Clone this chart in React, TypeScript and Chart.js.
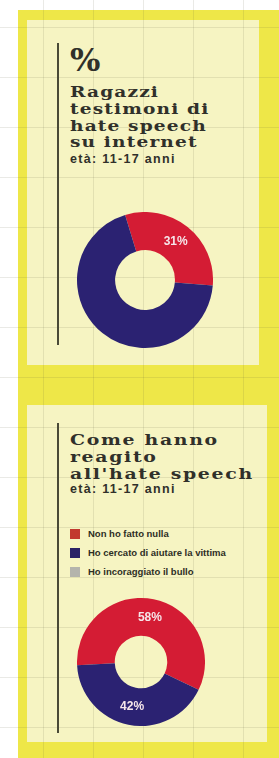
import React, { useEffect, useRef } from "react";
import { Chart, registerables } from "chart.js";

Chart.register(...registerables);

// ---- data ----
const chart1Categories = ["Testimoni di hate speech", "Non testimoni"];
const chart1Values = [31, 69];
const chart1Colors = ["#d41c34", "#2b2272"];
const chart1Labeled = [true, false];

const chart2Categories = ["Non ho fatto nulla", "Ho cercato di aiutare la vittima", "Ho incoraggiato il bullo"];
const chart2Values = [58, 42, 0];
const chart2Colors = ["#d41c34", "#2b2272", "#b4b4ac"];
const chart2LegendColors = ["#c23a2e", "#2b2266", "#b4b4ac"];
const chart2Labeled = [true, true, false];

const title1Lines = ["Ragazzi", "testimoni di", "hate speech", "su internet"];
const title2Lines = ["Come hanno", "reagito", "all'hate speech"];
const ageNote = "età: 11-17 anni";

const labelPlugin = {
  id: "sliceLabels",
  afterDatasetsDraw(chart: any) {
    const ctx = chart.ctx;
    const ds = chart.data.datasets[0];
    const meta = chart.getDatasetMeta(0);
    const shown: boolean[] = (chart.options.plugins as any).sliceLabels?.shown || [];
    ctx.save();
    ctx.fillStyle = "#f6e6ea";
    ctx.font = "bold 12px 'Liberation Sans', Arial, sans-serif";
    ctx.textAlign = "center";
    ctx.textBaseline = "middle";
    meta.data.forEach((arc: any, i: number) => {
      const v = ds.data[i];
      if (!shown[i] || !v) return;
      const p = arc.tooltipPosition();
      ctx.fillText(`${v}%`, p.x, p.y);
    });
    ctx.restore();
  },
};

function Donut(props: {
  categories: string[];
  values: number[];
  colors: string[];
  labeled: boolean[];
  rotation: number;
  cutout: string;
  style: React.CSSProperties;
}) {
  const ref = useRef<HTMLCanvasElement | null>(null);
  useEffect(() => {
    if (!ref.current) return;
    const chart = new Chart(ref.current, {
      type: "doughnut",
      data: {
        labels: props.categories,
        datasets: [
          {
            data: props.values,
            backgroundColor: props.colors,
            borderWidth: 0,
          },
        ],
      },
      options: {
        animation: false,
        responsive: false,
        maintainAspectRatio: false,
        rotation: props.rotation,
        cutout: props.cutout,
        layout: { padding: 0 },
        plugins: {
          legend: { display: false },
          tooltip: { enabled: false },
          sliceLabels: { shown: props.labeled },
        } as any,
      },
      plugins: [labelPlugin],
    });
    return () => chart.destroy();
  }, []);
  const w = props.style.width as number;
  const h = props.style.height as number;
  return <canvas ref={ref} width={w} height={h} style={{ position: "absolute", ...props.style }} />;
}

const serifTitle: React.CSSProperties = {
  position: "absolute",
  left: 70,
  fontFamily: "'DejaVu Serif', serif",
  fontWeight: "bold",
  fontSize: 14.5,
  letterSpacing: 0.9,
  lineHeight: "16.8px",
  color: "#30302a",
  whiteSpace: "nowrap",
  transform: "scaleX(1.28)",
  transformOrigin: "0 0",
};

const ageStyle: React.CSSProperties = {
  position: "absolute",
  left: 70,
  fontFamily: "'Liberation Sans', Arial, sans-serif",
  fontWeight: "bold",
  fontSize: 12.5,
  letterSpacing: 1.3,
  lineHeight: "13px",
  color: "#30302a",
  whiteSpace: "nowrap",
};

export default function App() {
  const gridBg =
    "repeating-linear-gradient(0deg, transparent 0px, transparent 49px, rgba(90,90,60,0.13) 49px, rgba(90,90,60,0.13) 50px)," +
    "repeating-linear-gradient(90deg, transparent 0px, transparent 49px, rgba(90,90,60,0.13) 49px, rgba(90,90,60,0.13) 50px)";
  return (
    <div
      style={{
        position: "fixed",
        left: 0,
        top: 0,
        width: 279,
        height: 758,
        background: "#ffffff",
        overflow: "hidden",
      }}
    >
      {/* yellow paper */}
      <div style={{ position: "absolute", left: 18, top: 10, width: 261, height: 748, background: "#eee748" }} />
      {/* cream panels */}
      <div style={{ position: "absolute", left: 27, top: 20, width: 232, height: 345, background: "#f6f4c2" }} />
      <div style={{ position: "absolute", left: 27, top: 405, width: 240, height: 337, background: "#f6f4c2" }} />
      {/* grid */}
      <div
        style={{
          position: "absolute",
          left: -6,
          top: -23,
          width: 300,
          height: 800,
          backgroundImage: gridBg,
          pointerEvents: "none",
        }}
      />
      {/* vertical rules */}
      <div style={{ position: "absolute", left: 57, top: 43, width: 2, height: 302, background: "#4a4a36" }} />
      <div style={{ position: "absolute", left: 57, top: 423, width: 2, height: 310, background: "#4a4a36" }} />

      {/* top panel text */}
      <div
        style={{
          ...serifTitle,
          top: 42,
          fontSize: 32,
          lineHeight: "36px",
          letterSpacing: 0,
          transform: "none",
        }}
      >
        %
      </div>
      <div style={{ ...serifTitle, top: 84 }}>
        {title1Lines.map((l, i) => (
          <div key={i}>{l}</div>
        ))}
      </div>
      <div style={{ ...ageStyle, top: 153 }}>{ageNote}</div>

      <Donut
        categories={chart1Categories}
        values={chart1Values}
        colors={chart1Colors}
        labeled={chart1Labeled}
        rotation={-17}
        cutout="44%"
        style={{ left: 77, top: 212, width: 136, height: 136 }}
      />

      {/* bottom panel text */}
      <div style={{ ...serifTitle, top: 431, letterSpacing: 1.3, lineHeight: "17px", transform: "scaleX(1.3)" }}>
        {title2Lines.map((l, i) => (
          <div key={i}>{l}</div>
        ))}
      </div>
      <div style={{ ...ageStyle, top: 483 }}>{ageNote}</div>

      {chart2Categories.map((c, i) => (
        <div key={i} style={{ position: "absolute", left: 70, top: 529 + i * 19, height: 10, whiteSpace: "nowrap" }}>
          <span
            style={{
              position: "absolute",
              left: 0,
              top: 0,
              width: 10,
              height: 10,
              background: chart2LegendColors[i],
            }}
          />
          <span
            style={{
              position: "absolute",
              left: 18,
              top: -1,
              fontFamily: "'Liberation Sans Narrow', 'Liberation Sans', Arial, sans-serif",
              fontWeight: "bold",
              fontSize: 9.5,
              lineHeight: "12px",
              color: "#2e2e24",
            }}
          >
            {c}
          </span>
        </div>
      ))}

      <Donut
        categories={chart2Categories}
        values={chart2Values}
        colors={chart2Colors}
        labeled={chart2Labeled}
        rotation={-93}
        cutout="41%"
        style={{ left: 77, top: 598, width: 128, height: 128 }}
      />
    </div>
  );
}
